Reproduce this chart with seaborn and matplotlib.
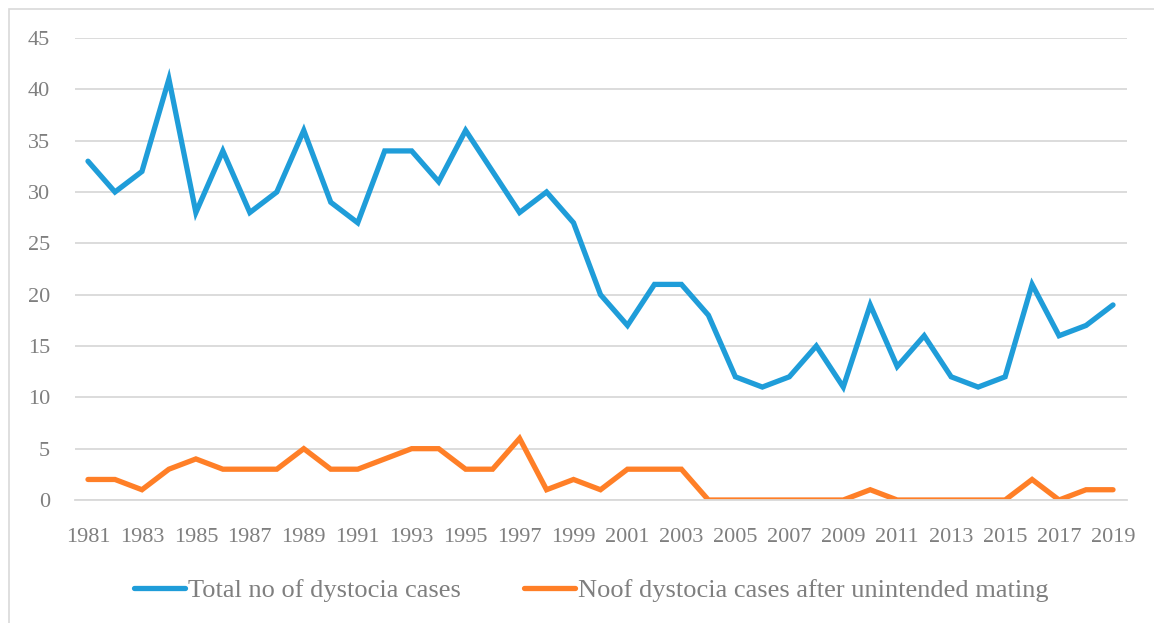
import matplotlib
matplotlib.use("Agg")
import matplotlib.pyplot as plt
import seaborn as sns
import pandas as pd
from matplotlib.patches import Rectangle
from matplotlib.lines import Line2D

years = list(range(1981, 2020))
total_cases = [33, 30, 32, 41, 28, 34, 28, 30, 36, 29, 27, 34, 34, 31, 36, 32, 28, 30, 27, 20,
               17, 21, 21, 18, 12, 11, 12, 15, 11, 19, 13, 16, 12, 11, 12, 21, 16, 17, 19]
unintended_cases = [2, 2, 1, 3, 4, 3, 3, 3, 5, 3, 3, 4, 5, 5, 3, 3, 6, 1, 2, 1,
                    3, 3, 3, 0, 0, 0, 0, 0, 0, 1, 0, 0, 0, 0, 0, 2, 0, 1, 1]
series_names = ["Total no of dystocia cases", "Noof dystocia cases after unintended mating"]
colors = ["#1F9DD9", "#FF7F27"]
y_ticks = list(range(0, 50, 5))

df = pd.DataFrame({
    "year": years * 2,
    "value": total_cases + unintended_cases,
    "series": [series_names[0]] * len(years) + [series_names[1]] * len(years),
})

sns.set_theme(style="white")
plt.rcParams["font.family"] = ["Liberation Serif", "DejaVu Serif"]

text_color = "#7F7F7F"
lw = 3.8

fig = plt.figure(figsize=(11.54, 6.23), dpi=100)
ax = fig.add_axes([74.5 / 1154, 1 - 500 / 623, (1126.5 - 74.5) / 1154, (500 - 38) / 623])

sns.lineplot(data=df, x="year", y="value", hue="series", palette=colors,
             linewidth=lw, ax=ax, legend=False, solid_capstyle="round",
             solid_joinstyle="miter")

ax.set_xlim(1980.5, 2019.5)
ax.set_ylim(0, 45)
ax.set_yticks(y_ticks)
ax.set_xticks(years[::2])
ax.set_xticklabels([str(y) for y in years[::2]])
ax.yaxis.grid(True, color="#D9D9D9", linewidth=1.3)
ax.xaxis.grid(False)
ax.set_axisbelow(True)
for s in ["top", "right", "left"]:
    ax.spines[s].set_visible(False)
ax.spines["bottom"].set_color("#D9D9D9")
ax.spines["bottom"].set_linewidth(1.3)
ax.tick_params(axis="both", length=0, labelsize=16, labelcolor=text_color)
ax.tick_params(axis="x", pad=20.5)
ax.tick_params(axis="y", pad=17.5)
ax.set_xlabel("")
ax.set_ylabel("")

handles = [Line2D([0], [0], color=c, linewidth=lw, solid_capstyle="round") for c in colors]
fig.legend(handles, series_names, loc="center", bbox_to_anchor=(591 / 1154, 1 - 590 / 623),
           ncol=2, frameon=False, fontsize=19, labelcolor=text_color,
           handlelength=1.95, handletextpad=0.1, columnspacing=2.4)

fig.patches.append(Rectangle((9 / 1154, -0.1), 1.2, 1.1 - 9 / 623, transform=fig.transFigure,
                             fill=False, edgecolor="#D9D9D9", linewidth=1.2))

fig.savefig("out.png", dpi=100)
